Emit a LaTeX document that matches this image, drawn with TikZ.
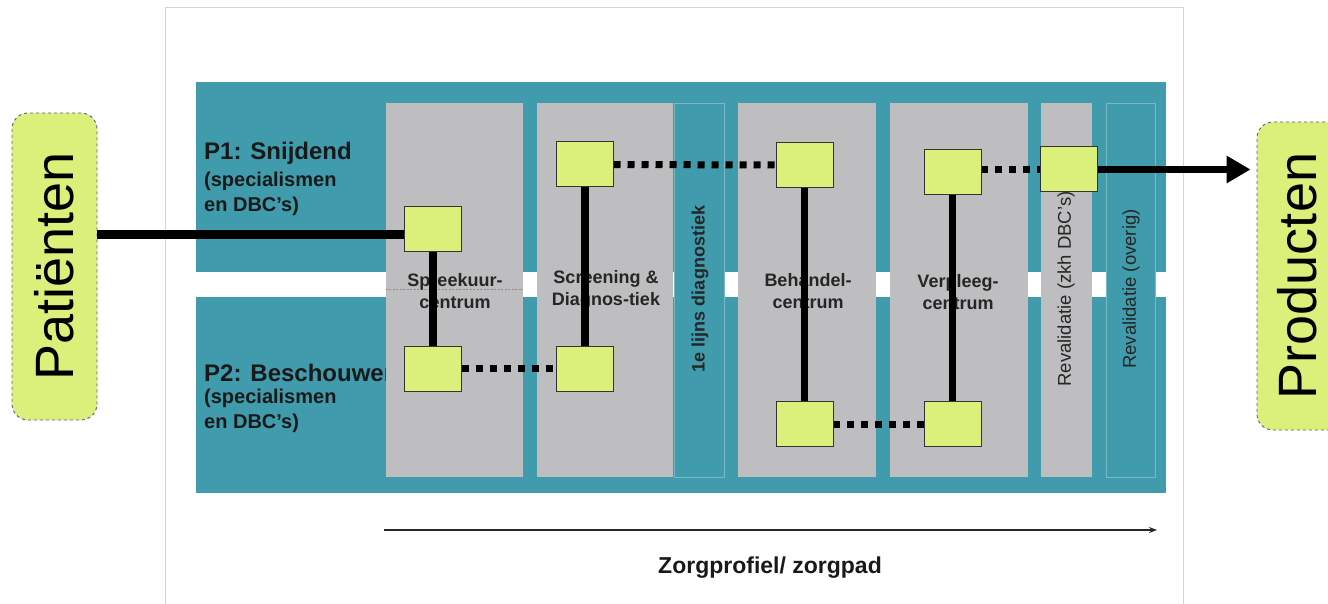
\documentclass[tikz,border=0pt]{standalone}
\usepackage{fontspec}
\setmainfont{Liberation Sans}
\usetikzlibrary{arrows.meta,calc}
\definecolor{teal1}{HTML}{409BAD}
\definecolor{colgray}{HTML}{BEBEC0}
\definecolor{lgreen}{HTML}{DAF07B}
\definecolor{boxborder}{HTML}{50628A}
\begin{document}
\begin{tikzpicture}[x=1pt,y=-1pt,
 col/.style={fill=colgray,draw=none,inner sep=0pt},
 tcol/.style={fill=teal1,draw=teal1!70!white,line width=0.8pt,inner sep=0pt},
 sq/.style={draw=black!80,line width=1pt,fill=lgreen,minimum width=56pt,minimum height=44pt,inner sep=0pt},
 solidlink/.style={line width=7.5pt},
 dotlink/.style={line width=7pt,dash pattern=on 7pt off 7pt},
 lbl/.style={font=\bfseries\fontsize{18}{22.5}\selectfont,align=center,text=black!85},
 vlbl/.style={font=\bfseries\fontsize{18}{22}\selectfont,rotate=90,text=black!85,inner sep=0pt},
 vlblr/.style={font=\fontsize{18.5}{22}\selectfont,rotate=90,text=black!85,inner sep=0pt},
 side/.style={draw=boxborder,dashed,fill=lgreen,rounded corners=16pt,line width=0.9pt,inner sep=0pt},
 sidetxt/.style={font=\fontsize{54}{60}\selectfont,rotate=90,inner sep=0pt},
 plbl/.style={anchor=west,inner sep=0pt,align=left,text=black!90}
]
\useasboundingbox (0,0) rectangle (1328,604);
\fill[white] (0,0) rectangle (1328,604);
% outer frame
\draw[black!17,line width=1pt] (165,8) rectangle (1183,650);
% teal bands
\fill[teal1] (196,82) rectangle (1166,493);
\fill[white] (196,272) rectangle (1166,297);
% row labels
\node[plbl,font=\bfseries\fontsize{24}{28}\selectfont] (p1) at (204,153) {P1: Snijdend};
\node[plbl,font=\bfseries\fontsize{20}{25}\selectfont] (p1s) at (204,194) {(specialismen\\en DBC’s)};
\node[plbl,font=\bfseries\fontsize{24}{28}\selectfont] (p2) at (204,373) {P2: Beschouwend};
\node[plbl,font=\bfseries\fontsize{20}{25}\selectfont] (p2s) at (204,411) {(specialismen\\en DBC’s)};
% columns
\node[col,minimum width=137pt,minimum height=374pt] (c1) at (454.5,290) {};
\node[col,minimum width=136pt,minimum height=374pt] (c2) at (605,290) {};
\node[tcol,minimum width=50pt,minimum height=374pt] (c3) at (699.5,290) {};
\node[col,minimum width=138pt,minimum height=374pt] (c4) at (807,290) {};
\node[col,minimum width=138pt,minimum height=374pt] (c5) at (959,290) {};
\node[col,minimum width=51pt,minimum height=374pt] (c6) at (1066.5,290) {};
\node[tcol,minimum width=49pt,minimum height=374pt] (c7) at (1130.5,290) {};
\coordinate (ydash) at (0,289);
\draw[black!45,line width=0.6pt,dash pattern=on 2pt off 1.5pt] (c1.west |- ydash) -- (c1.east |- ydash);
% column labels
\node[lbl] (l1) at (455,291) {Spreekuur-\\centrum};
\node[lbl] (l2) at (606,290) {Screening \&\\Diagnos-tiek};
\node[vlbl] (l3) at (700,289) {1e lijns diagnostiek};
\node[lbl] (l4) at (808,291) {Behandel-\\centrum};
\node[lbl] (l5) at (958,292) {Verpleeg-\\centrum};
\node[vlblr] (l6) at (1066,289) {Revalidatie (zkh DBC’s)};
\node[vlblr] (l7) at (1131,289) {Revalidatie (overig)};
% squares
\node[sq] (A) at (433,229) {};
\node[sq] (B) at (433,368.5) {};
\node[sq] (C) at (585,164.5) {};
\node[sq] (D) at (585,368.5) {};
\node[sq] (E) at (804.5,165) {};
\node[sq] (F) at (804.5,424) {};
\node[sq] (G) at (952.5,172.5) {};
\node[sq] (H) at (952.5,424) {};
\node[sq] (I) at (1069,169.5) {};
% side boxes
\node[side,minimum width=85pt,minimum height=307pt] (pat) at (54.5,266.5) {};
\node[sidetxt] (pattxt) at (pat.center) {Patiënten};
\node[side,minimum width=90pt,minimum height=308pt] (prod) at (1302,276) {};
\node[sidetxt] (prodtxt) at (1297,276) {Producten};
% connectors
\coordinate (ypat) at (0,235);
\draw[line width=9pt] (pat.east |- ypat) -- (A.west |- ypat);
\draw[solidlink] (A.south) -- (B.north);
\draw[solidlink] (C.south) -- (D.north);
\draw[solidlink] (E.south) -- (F.north);
\draw[solidlink] (G.south) -- (H.north);
\draw[dotlink] (B.east) -- (D.west);
\draw[dotlink] (C.east) -- (E.west);
\draw[dotlink] (F.east) -- (H.west);
\draw[dotlink] (G.east |- I.west) -- (I.west);
\draw[line width=7pt,-{Triangle[length=24pt,width=26pt]},shorten >=6pt] (I.east) -- (prod.west |- I.east);
% redraw squares on top of links
\foreach \n in {A,B,C,D,E,F,G,H,I}{\draw[draw=black!80,line width=1pt,fill=lgreen] (\n.south west) rectangle (\n.north east);}
% axis
\coordinate (ax1) at (384,530);
\coordinate (ax2) at (1157,530);
\draw[line width=1.4pt,black!85,-{Stealth[length=8pt,width=6pt]}] (ax1) -- (ax2);
\node[font=\bfseries\fontsize{23}{27}\selectfont,text=black!90] (zp) at (770,568) {Zorgprofiel/ zorgpad};
\end{tikzpicture}
\end{document}
